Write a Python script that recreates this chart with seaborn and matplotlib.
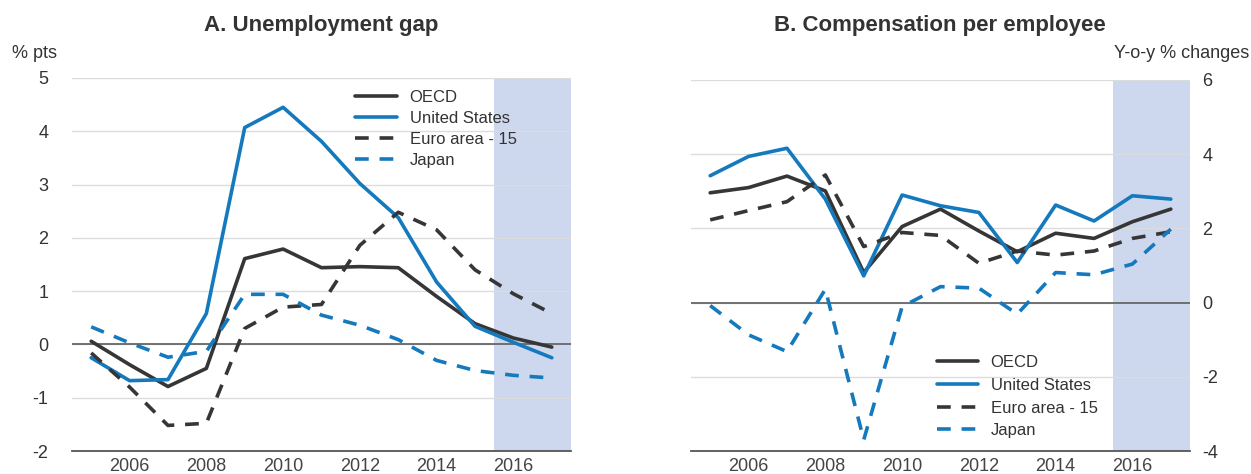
import numpy as np
import pandas as pd
import matplotlib
matplotlib.use("Agg")
import matplotlib.pyplot as plt
import seaborn as sns

# Years covered (annual), projections from 2016
years = np.arange(2005, 2018)
projection_start = 2016

# Panel A: unemployment gap, % pts
gap_oecd = [0.06, -0.38, -0.79, -0.45, 1.61, 1.79, 1.44, 1.46, 1.44, 0.90, 0.39, 0.12, -0.05]
gap_us = [-0.25, -0.68, -0.66, 0.58, 4.07, 4.45, 3.81, 3.02, 2.38, 1.17, 0.34, 0.04, -0.25]
gap_euro = [-0.16, -0.80, -1.52, -1.48, 0.30, 0.70, 0.75, 1.86, 2.48, 2.15, 1.40, 0.95, 0.58]
gap_japan = [0.33, 0.03, -0.24, -0.13, 0.94, 0.94, 0.55, 0.36, 0.09, -0.30, -0.49, -0.58, -0.63]

# Panel B: compensation per employee, y-o-y % changes
comp_oecd = [2.96, 3.10, 3.41, 3.01, 0.81, 2.05, 2.52, 1.93, 1.37, 1.87, 1.73, 2.18, 2.52]
comp_us = [3.42, 3.94, 4.16, 2.79, 0.72, 2.90, 2.61, 2.43, 1.08, 2.63, 2.20, 2.88, 2.79]
comp_euro = [2.23, 2.48, 2.72, 3.44, 1.51, 1.89, 1.81, 1.06, 1.39, 1.28, 1.39, 1.73, 1.91]
comp_japan = [-0.08, -0.87, -1.32, 0.36, -3.70, -0.11, 0.43, 0.39, -0.31, 0.81, 0.75, 1.04, 1.98]

series_names = ["OECD", "United States", "Euro area - 15", "Japan"]
year_labels = ["2006", "2008", "2010", "2012", "2014", "2016"]

DARK = "#363636"
BLUE = "#1479bd"
SHADE = "#cdd8ee"
TEXT = "#333333"
DASH = (0, (3.8, 3.0))

styles = {
    "OECD": (DARK, "-"),
    "United States": (BLUE, "-"),
    "Euro area - 15": (DARK, DASH),
    "Japan": (BLUE, DASH),
}

sns.set_theme(style="white")
plt.rcParams["font.family"] = ["Liberation Sans", "DejaVu Sans"]
plt.rcParams["text.color"] = TEXT
plt.rcParams["axes.labelcolor"] = TEXT
plt.rcParams["xtick.color"] = "#444444"
plt.rcParams["ytick.color"] = TEXT

W, H = 1251, 474
fig = plt.figure(figsize=(W / 100, H / 100), dpi=100)


def px_axes(x0, x1, ytop, ybot):
    return fig.add_axes([x0 / W, 1 - ybot / H, (x1 - x0) / W, (ybot - ytop) / H])


def frame(df):
    return df.melt(id_vars="year", var_name="series", value_name="value")


def draw_panel(ax, data, ylim, yticks, right=False):
    ax.axvspan(projection_start, years[-1] + 1, color=SHADE, zorder=0.3, lw=0)
    for name in series_names:
        sub = data[data["series"] == name]
        color, ls = styles[name]
        sns.lineplot(x=sub["year"] + 0.5, y=sub["value"], ax=ax, color=color,
                     linestyle=ls, lw=2.6, label=name, zorder=3)
    ax.axhline(0, color="#666666", lw=1.3, zorder=2)
    ax.set_xlim(years[0], years[-1] + 1)
    ax.set_ylim(*ylim)
    ax.set_yticks(yticks)
    ax.set_yticklabels([f"{t:g}" for t in yticks], fontsize=13)
    ax.yaxis.grid(True, color="#dcdcdc", lw=1.0, zorder=0.5)
    ax.set_axisbelow(True)
    # year boundaries as ticks, labels centred on the year
    ax.set_xticks(np.arange(years[0], years[-1] + 2))
    ax.set_xticklabels([])
    ax.set_xticks([int(y) + 0.5 for y in year_labels], minor=True)
    ax.set_xticklabels(year_labels, minor=True, fontsize=13)
    ax.tick_params(axis="x", which="major", direction="in", length=4, width=1.2,
                   color="#555555")
    ax.tick_params(axis="x", which="minor", length=0, pad=5)
    for s in ["top", "left", "right"]:
        ax.spines[s].set_visible(False)
    ax.spines["bottom"].set_color("#555555")
    ax.spines["bottom"].set_linewidth(1.3)
    if right:
        ax.yaxis.tick_right()
        ax.tick_params(axis="y", length=0, pad=9)
    else:
        ax.tick_params(axis="y", length=0, pad=17)
    ax.set_xlabel("")
    ax.set_ylabel("")


gap = frame(pd.DataFrame({"year": years, "OECD": gap_oecd, "United States": gap_us,
                          "Euro area - 15": gap_euro, "Japan": gap_japan}))
comp = frame(pd.DataFrame({"year": years, "OECD": comp_oecd, "United States": comp_us,
                           "Euro area - 15": comp_euro, "Japan": comp_japan}))

axA = px_axes(72, 571, 78, 451)
draw_panel(axA, gap, (-2, 5), np.arange(-2, 6, 1))
axA.legend(loc="upper left", bbox_to_anchor=(0.568, 0.968), frameon=False,
           fontsize=12, handlelength=2.5, handletextpad=0.75, labelspacing=0.36,
           borderpad=0, borderaxespad=0)

axB = px_axes(691, 1190, 80, 451)
draw_panel(axB, comp, (-4, 6), np.arange(-4, 7, 2), right=True)
axB.legend(loc="upper left", bbox_to_anchor=(0.492, 0.258), frameon=False,
           fontsize=12, handlelength=2.5, handletextpad=0.75, labelspacing=0.46,
           borderpad=0, borderaxespad=0)

fig.text(321 / W, 1 - 31 / H, "A. Unemployment gap", ha="center", va="baseline",
         fontsize=16, fontweight="bold", color=TEXT)
fig.text(940 / W, 1 - 31 / H, "B. Compensation per employee", ha="center",
         va="baseline", fontsize=16, fontweight="bold", color=TEXT)
fig.text(12 / W, 1 - 58 / H, "% pts", ha="left", va="baseline", fontsize=13)
fig.text(1249 / W, 1 - 58 / H, "Y-o-y % changes", ha="right", va="baseline",
         fontsize=13)

fig.savefig("out.png", dpi=100, facecolor="white")
